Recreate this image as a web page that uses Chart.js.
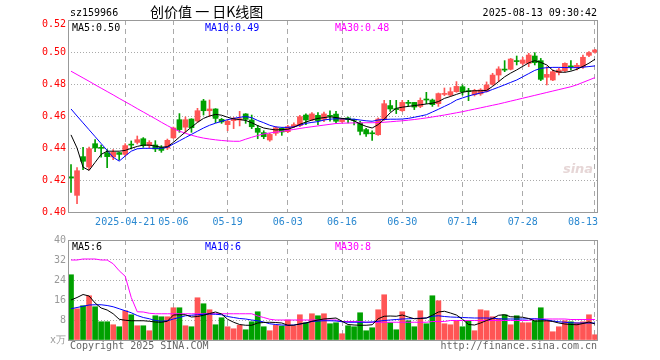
<!DOCTYPE html>
<html>
<head>
<meta charset="utf-8">
<script src="https://cdn.jsdelivr.net/npm/chart.js@4/dist/chart.umd.min.js"></script>
<style>
  body { margin: 0; background: #fff; width: 660px; height: 360px; overflow: hidden; position: relative; }
  #kline { position: absolute; left: 0; top: 0; }
  #vol { position: absolute; left: 0; top: 228px; }
</style>
</head>
<body>
<canvas id="kline" width="660" height="228"></canvas>
<canvas id="vol" width="660" height="132"></canvas>
<script>
// trading days shown (88 sessions)
const dates = [
  '2025-04-08','2025-04-09','2025-04-10','2025-04-11','2025-04-14','2025-04-15','2025-04-16','2025-04-17','2025-04-18',
  '2025-04-21','2025-04-22','2025-04-23','2025-04-24','2025-04-25','2025-04-28','2025-04-29','2025-04-30',
  '2025-05-06','2025-05-07','2025-05-08','2025-05-09','2025-05-12','2025-05-13','2025-05-14','2025-05-15','2025-05-16',
  '2025-05-19','2025-05-20','2025-05-21','2025-05-22','2025-05-23','2025-05-26','2025-05-27','2025-05-28','2025-05-29','2025-05-30',
  '2025-06-03','2025-06-04','2025-06-05','2025-06-06','2025-06-09','2025-06-10','2025-06-11','2025-06-12','2025-06-13',
  '2025-06-16','2025-06-17','2025-06-18','2025-06-19','2025-06-20','2025-06-23','2025-06-24','2025-06-25','2025-06-26','2025-06-27',
  '2025-06-30','2025-07-01','2025-07-02','2025-07-03','2025-07-04','2025-07-07','2025-07-08','2025-07-09','2025-07-10','2025-07-11',
  '2025-07-14','2025-07-15','2025-07-16','2025-07-17','2025-07-18','2025-07-21','2025-07-22','2025-07-23','2025-07-24','2025-07-25',
  '2025-07-28','2025-07-29','2025-07-30','2025-07-31','2025-08-01','2025-08-04','2025-08-05','2025-08-06','2025-08-07','2025-08-08',
  '2025-08-11','2025-08-12','2025-08-13'
];
const tickLabels = ['2025-04-21','05-06','05-19','06-03','06-16','06-30','07-14','07-28','08-13'];
const priceTicks = [0.40, 0.42, 0.44, 0.46, 0.48, 0.50, 0.52];
const volTicks = [0, 8, 16, 24, 32, 40];

const open = [
  .4220,.4104,.4346,.4281,.4427,.4402,.4370,.4344,.4371,.4360,.4420,.4435,.4458,.4415,.4419,.4404,.4400,.4463,.4577,.4530,
  .4581,.4569,.4694,.4633,.4644,.4579,.4546,.4571,.4575,.4613,.4575,.4523,.4496,.4450,.4492,.4523,.4502,.4533,.4540,.4606,
  .4575,.4604,.4579,.4602,.4612,.4565,.4588,.4575,.4556,.4515,.4492,.4483,.4577,.4665,.4642,.4633,.4681,.4685,.4660,.4702,
  .4700,.4677,.4735,.4731,.4752,.4783,.4754,.4733,.4738,.4754,.4798,.4856,.4889,.4892,.4942,.4929,.4929,.4975,.4946,.4842,
  .4825,.4871,.4883,.4909,.4904,.4908,.4979,.5000
];
const high = [
  .4296,.4277,.4404,.4406,.4452,.4419,.4390,.4390,.4373,.4427,.4444,.4475,.4465,.4446,.4446,.4415,.4456,.4531,.4615,.4594,
  .4583,.4648,.4704,.4700,.4646,.4585,.4575,.4592,.4629,.4615,.4606,.4542,.4508,.4492,.4533,.4527,.4542,.4558,.4604,.4613,
  .4621,.4621,.4625,.4633,.4629,.4585,.4594,.4581,.4567,.4523,.4508,.4588,.4698,.4698,.4698,.4698,.4698,.4685,.4713,.4748,
  .4706,.4744,.4775,.4777,.4815,.4794,.4773,.4767,.4771,.4813,.4867,.4908,.4946,.4960,.4975,.4967,.4992,.4996,.4960,.4908,
  .4888,.4898,.4933,.4946,.4929,.4981,.5002,.5017
];
const low = [
  .4123,.4052,.4265,.4263,.4377,.4342,.4277,.4327,.4325,.4348,.4394,.4425,.4404,.4402,.4377,.4373,.4390,.4460,.4498,.4498,
  .4498,.4560,.4606,.4596,.4558,.4554,.4508,.4521,.4538,.4554,.4521,.4458,.4458,.4442,.4479,.4479,.4496,.4529,.4533,.4546,
  .4571,.4546,.4565,.4567,.4556,.4560,.4556,.4544,.4481,.4473,.4448,.4479,.4573,.4629,.4615,.4629,.4660,.4640,.4652,.4677,
  .4660,.4660,.4727,.4723,.4748,.4731,.4696,.4725,.4729,.4750,.4792,.4815,.4877,.4888,.4919,.4919,.4908,.4919,.4821,.4794,
  .4821,.4856,.4877,.4888,.4888,.4898,.4971,.4992
];
const close = [
  .4212,.4258,.4317,.4396,.4400,.4398,.4346,.4373,.4360,.4415,.4418,.4452,.4415,.4435,.4394,.4385,.4448,.4525,.4515,.4577,
  .4527,.4633,.4633,.4644,.4585,.4563,.4567,.4583,.4583,.4579,.4533,.4498,.4471,.4485,.4527,.4500,.4533,.4546,.4596,.4575,
  .4613,.4571,.4613,.4598,.4567,.4581,.4577,.4573,.4504,.4488,.4489,.4581,.4677,.4644,.4640,.4685,.4679,.4656,.4698,.4700,
  .4671,.4740,.4738,.4752,.4785,.4752,.4752,.4758,.4763,.4794,.4856,.4894,.4887,.4956,.4940,.4950,.4981,.4933,.4829,.4860,
  .4877,.4888,.4929,.4907,.4917,.4967,.4996,.5013
];
const ma5 = [
  .4482,.4400,.4280,.4260,.4310,.4360,.4380,.4380,.4380,.4385,.4398,.4410,.4418,.4418,.4412,.4405,.4408,.4435,.4468,.4500,
  .4530,.4560,.4585,.4600,.4610,.4605,.4592,.4582,.4578,.4572,.4558,.4540,.4525,.4518,.4513,.4515,.4517,.4530,.4548,.4562,
  .4575,.4585,.4590,.4595,.4590,.4585,.4581,.4570,.4550,.4535,.4525,.4546,.4580,.4620,.4648,.4655,.4660,.4665,.4670,.4675,
  .4680,.4690,.4710,.4722,.4735,.4748,.4755,.4758,.4758,.4760,.4785,.4815,.4845,.4868,.4888,.4910,.4932,.4946,.4935,.4919,
  .4885,.4875,.4873,.4880,.4892,.4910,.4930,.4955
];
const ma10 = [
  .4644,.4600,.4557,.4514,.4471,.4428,.4385,.4342,.4318,.4350,.4380,.4395,.4398,.4398,.4398,.4398,.4405,.4425,.4445,.4465,
  .4485,.4505,.4525,.4542,.4555,.4567,.4577,.4585,.4592,.4596,.4590,.4572,.4558,.4542,.4532,.4529,.4529,.4532,.4542,.4554,
  .4560,.4565,.4575,.4580,.4583,.4582,.4581,.4580,.4575,.4570,.4567,.4575,.4578,.4580,.4580,.4581,.4585,.4592,.4600,.4608,
  .4625,.4642,.4660,.4678,.4700,.4713,.4725,.4735,.4744,.4752,.4766,.4780,.4795,.4810,.4825,.4845,.4865,.4885,.4898,.4902,
  .4904,.4904,.4903,.4902,.4902,.4905,.4909,.4913
];
const ma30 = [
  .4880,.4859,.4838,.4817,.4795,.4774,.4753,.4732,.4710,.4689,.4668,.4646,.4625,.4604,.4583,.4561,.4540,.4520,.4505,.4492,
  .4480,.4470,.4462,.4456,.4451,.4447,.4444,.4442,.4442,.4455,.4467,.4478,.4488,.4494,.4499,.4504,.4510,.4516,.4522,.4528,
  .4533,.4538,.4543,.4548,.4553,.4555,.4556,.4557,.4557,.4558,.4558,.4559,.4561,.4564,.4567,.4570,.4574,.4578,.4583,.4588,
  .4594,.4600,.4606,.4613,.4620,.4627,.4635,.4643,.4651,.4659,.4667,.4675,.4684,.4693,.4702,.4711,.4720,.4729,.4738,.4747,
  .4756,.4765,.4774,.4783,.4795,.4810,.4825,.4840
];

// volume, unit: 万手
const volume = [
  26.1,12.5,13.7,17.7,13.3,7.3,7.3,6.1,5.3,11.7,10.1,5.7,5.7,3.7,9.7,9.3,9.3,12.9,12.9,5.7,
  5.3,16.9,14.5,12.1,6.1,8.9,5.3,4.5,5.9,4.1,7.3,11.3,5.3,3.7,5.9,5.6,8.0,5.6,10.1,6.9,
  10.5,9.7,10.5,6.5,6.9,2.5,5.7,5.3,10.9,3.7,4.9,12.1,18.1,6.9,4.1,11.3,7.7,5.3,11.7,6.5,
  17.7,15.7,6.5,6.1,7.7,5.3,7.7,3.7,12.1,11.7,9.3,8.5,10.1,6.1,9.7,6.9,6.9,7.7,12.9,7.7,
  3.3,5.3,7.7,7.3,6.9,7.3,10.1,2.1
];
const vma5 = [
  16.0,17.0,18.2,17.6,14.8,12.8,12.0,10.5,8.3,7.9,7.7,7.7,7.7,7.5,7.2,7.1,7.5,10.0,10.1,10.1,
  9.2,9.4,9.9,10.6,11.2,10.4,8.3,7.1,6.2,5.9,5.9,6.8,7.0,7.1,7.0,6.8,5.9,5.9,6.4,6.8,
  7.5,8.0,8.4,8.6,8.8,7.5,6.2,6.0,5.9,5.9,6.1,8.5,9.5,9.6,9.5,10.0,9.2,8.5,8.6,8.8,
  9.9,11.2,11.5,10.8,10.0,8.3,6.2,6.0,6.8,7.8,8.6,9.9,10.1,9.3,9.2,9.1,8.6,7.6,7.6,7.7,
  7.4,6.8,6.4,6.2,6.1,6.6,7.2,6.4
];
const vma10 = [
  12.5,13.0,13.5,14.0,14.1,14.1,13.8,13.3,12.5,11.7,10.9,9.8,9.0,8.5,7.8,7.5,7.7,8.4,9.0,9.7,
  9.9,10.1,10.3,10.4,10.3,10.1,9.4,9.0,8.6,8.4,8.0,7.7,7.2,6.5,6.2,6.0,5.9,6.0,6.4,6.8,
  7.4,7.6,7.7,7.7,7.6,7.3,7.1,7.1,7.1,7.1,7.2,7.5,7.8,8.0,8.2,8.4,8.5,8.6,8.7,8.8,
  9.5,9.7,9.4,9.2,9.1,9.0,8.9,8.8,8.8,8.8,8.7,8.5,8.4,8.4,8.4,8.4,8.5,8.5,8.3,8.0,
  7.6,7.3,7.1,6.9,6.8,6.8,6.8,6.8
];
const vma30 = [
  32.0,32.0,32.4,32.4,32.4,32.0,32.0,30.5,27.7,25.5,17.0,11.3,11.2,10.7,10.5,10.5,10.5,10.5,10.5,10.5,
  10.5,10.5,10.5,10.5,10.5,10.5,10.5,10.5,10.5,10.5,10.5,9.6,9.0,8.3,8.0,8.0,8.0,8.0,8.0,8.0,
  8.0,8.0,8.0,8.0,8.0,7.4,7.4,7.4,7.4,7.1,7.1,7.1,7.1,7.1,7.1,7.1,7.1,7.1,7.1,7.1,
  7.4,7.4,7.4,7.8,7.8,7.8,7.8,7.8,7.8,7.8,7.8,7.8,7.8,7.8,7.8,7.8,7.8,8.4,8.4,8.4,
  8.4,8.4,8.4,8.2,8.2,8.2,8.2,8.2
];

const priceMaText = ['MA5:0.50', 'MA10:0.49', 'MA30:0.48'];
const volMaText = ['MA5:6', 'MA10:6', 'MA30:8'];
const maColors = ['#000000', '#0000ff', '#ff00ff'];

const UP = '#ff5555';
const DOWN = '#00a000';
const MONO = '"DejaVu Sans Mono", monospace';

Chart.defaults.font.family = MONO;
Chart.defaults.font.size = 10;

const candleColor = open.map((o, i) => close[i] >= o ? UP : DOWN);
const tickIdx = tickLabels.map(t => dates.findIndex(d => d.endsWith(t)));

// full frame around the plot area
const framePlugin = {
  id: 'frame',
  afterDraw(chart) {
    const a = chart.chartArea, ctx = chart.ctx;
    ctx.save();
    ctx.strokeStyle = '#999';
    ctx.lineWidth = 1;
    ctx.strokeRect(Math.round(a.left) + 0.5, Math.round(a.top) + 0.5,
                   Math.round(a.right - a.left) - 1, Math.round(a.bottom - a.top));
    ctx.restore();
  }
};

function maLine(data, color) {
  return { type: 'line', data: data, borderColor: color, borderWidth: 1, pointRadius: 0,
           tension: 0, order: 0 };
}

function xScale(hideHeight) {
  return {
    type: 'category',
    offset: true,
    grid: {
      offset: false,
      drawTicks: false,
      color: ctx => tickIdx.includes(ctx.index) ? '#aaa' : 'rgba(0,0,0,0)'
    },
    border: { display: false, dash: [5, 4] },
    ticks: { display: false, autoSkip: false },
    afterFit: s => { s.height = hideHeight; }
  };
}

// candlestick chart
const kText = {
  id: 'ktext',
  afterDraw(chart) {
    const ctx = chart.ctx, a = chart.chartArea, xs = chart.scales.x, ys = chart.scales.y;
    ctx.save();
    ctx.textBaseline = 'middle';
    ctx.font = '10px ' + MONO;
    ctx.fillStyle = '#000';
    ctx.textAlign = 'left';
    ctx.fillText('sz159966', 70, 13);
    ctx.textAlign = 'right';
    ctx.fillText('2025-08-13 09:30:42', 597, 13);
    ctx.textAlign = 'left';
    ctx.font = '14px "Noto Sans CJK SC"';
    ctx.fillText('创价值 一 日K线图', 150, 12);

    ctx.font = '10px ' + MONO;
    [72, 205, 335].forEach((x, i) => {
      ctx.fillStyle = maColors[i];
      ctx.fillText(priceMaText[i], x, 28);
    });

    // price labels, the top one sits just inside the frame
    ctx.fillStyle = '#ff0000';
    ctx.textAlign = 'right';
    priceTicks.forEach((v, i) => {
      let y = ys.getPixelForValue(v);
      if (i === priceTicks.length - 1) y += 4;
      ctx.fillText(v.toFixed(2), a.left - 2, y);
    });

    // date labels under the axis
    ctx.textAlign = 'left';
    ctx.fillStyle = '#2a88d0';
    tickLabels.forEach((t, i) => {
      const w = ctx.measureText(t).width;
      let left = xs.getPixelForValue(tickIdx[i]) - w / 2;
      if (left + w > a.right) left = a.right - w;
      ctx.fillText(t, left, a.bottom + 10);
    });

    // faint watermark
    ctx.font = 'italic bold 13px "DejaVu Sans"';
    ctx.fillStyle = '#e6d6d6';
    ctx.textAlign = 'center';
    ctx.fillText('sina', 578, 170);
    ctx.restore();
  }
};

new Chart(document.getElementById('kline'), {
  type: 'bar',
  data: {
    labels: dates,
    datasets: [
      maLine(ma5, maColors[0]),
      maLine(ma10, maColors[1]),
      maLine(ma30, maColors[2]),
      { type: 'bar', data: open.map((o, i) => [o, close[i]]), backgroundColor: candleColor,
        barThickness: 5, minBarLength: 1, grouped: false, order: 1 },
      { type: 'bar', data: low.map((l, i) => [l, high[i]]), backgroundColor: candleColor,
        barThickness: 1, grouped: false, order: 2 }
    ]
  },
  options: {
    responsive: false,
    animation: false,
    devicePixelRatio: 1,
    layout: { padding: { left: 0, right: 62, top: 20, bottom: 0 } },
    plugins: { legend: { display: false }, tooltip: { enabled: false } },
    scales: {
      x: xScale(16),
      y: {
        min: 0.40, max: 0.52,
        afterBuildTicks: s => { s.ticks = priceTicks.map(v => ({ value: v })); },
        afterFit: s => { s.width = 68; },
        ticks: { display: false },
        grid: {
          drawTicks: false,
          color: ctx => (ctx.index > 0 && ctx.index < priceTicks.length - 1) ? '#aaa' : 'rgba(0,0,0,0)'
        },
        border: { display: false, dash: [1, 2] }
      }
    }
  },
  plugins: [framePlugin, kText]
});

// volume chart
const vText = {
  id: 'vtext',
  afterDraw(chart) {
    const ctx = chart.ctx;
    ctx.save();
    ctx.textBaseline = 'middle';
    ctx.font = '10px ' + MONO;
    [72, 205, 335].forEach((x, i) => {
      ctx.fillStyle = maColors[i];
      ctx.fillText(volMaText[i], x, 19);
    });
    ctx.fillStyle = '#666';
    ctx.fillText('Copyright 2025 SINA.COM', 70, 118);
    ctx.textAlign = 'right';
    ctx.fillText('http://finance.sina.com.cn', 597, 118);
    ctx.restore();
  }
};

new Chart(document.getElementById('vol'), {
  type: 'bar',
  data: {
    labels: dates,
    datasets: [
      maLine(vma5, maColors[0]),
      maLine(vma10, maColors[1]),
      maLine(vma30, maColors[2]),
      { type: 'bar', data: volume, backgroundColor: candleColor, barThickness: 5,
        grouped: false, order: 1 }
    ]
  },
  options: {
    responsive: false,
    animation: false,
    devicePixelRatio: 1,
    layout: { padding: { left: 0, right: 62, top: 12, bottom: 0 } },
    plugins: { legend: { display: false }, tooltip: { enabled: false } },
    scales: {
      x: xScale(20),
      y: {
        min: 0, max: 40,
        afterBuildTicks: s => { s.ticks = volTicks.map(v => ({ value: v })); },
        afterFit: s => { s.width = 68; },
        ticks: { color: '#999', padding: 2, callback: v => v === 0 ? 'x万' : String(v) },
        grid: {
          drawTicks: false,
          color: ctx => (ctx.index > 0 && ctx.index < volTicks.length - 1) ? '#aaa' : 'rgba(0,0,0,0)'
        },
        border: { display: false, dash: [1, 2] }
      }
    }
  },
  plugins: [framePlugin, vText]
});
</script>
</body>
</html>
